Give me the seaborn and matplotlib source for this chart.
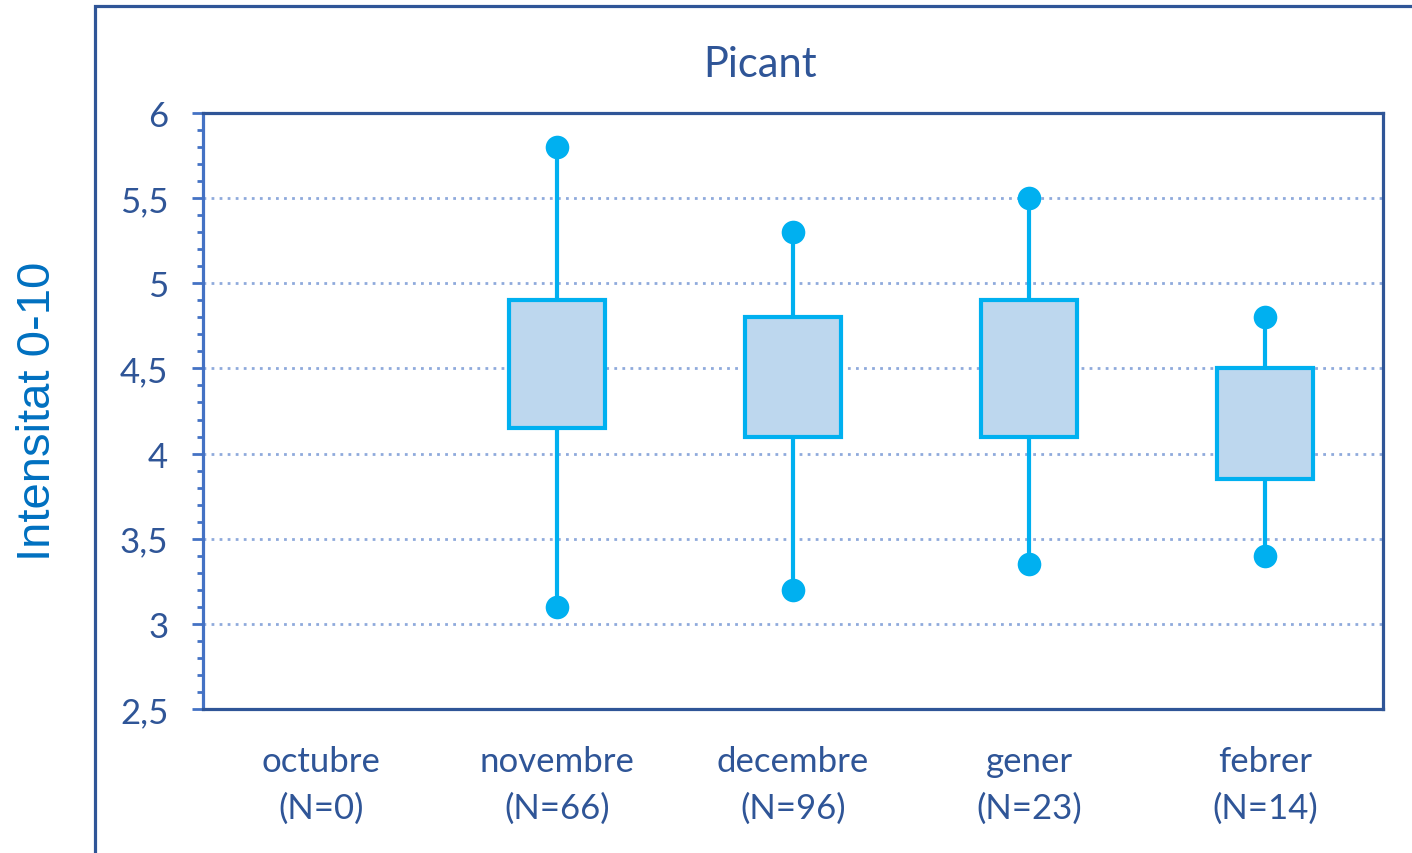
import numpy as np
import pandas as pd
import seaborn as sns
import matplotlib.pyplot as plt
from matplotlib.lines import Line2D
from matplotlib.ticker import MultipleLocator, FuncFormatter

# ---- data ----
months = ["octubre", "novembre", "decembre", "gener", "febrer"]
counts = [0, 66, 96, 23, 14]
whisker_low = [None, 3.1, 3.2, 3.35, 3.4]
box_q1 = [None, 4.15, 4.1, 4.1, 3.85]
box_q3 = [None, 4.9, 4.8, 4.9, 4.5]
whisker_high = [None, 5.8, 5.3, 5.5, 4.8]

title = "Picant"
ylabel = "Intensitat 0-10"

labels = [f"{m}\n(N={n})" for m, n in zip(months, counts)]

# long-form table whose quartiles / extremes reproduce the box stats
rows = []
ends = []
for lab, lo, q1, q3, hi in zip(labels, whisker_low, box_q1, box_q3, whisker_high):
    if lo is None:
        continue
    for v in (lo, q1, q1, q3, q3, hi):
        rows.append({"mes": lab, "valor": v})
    ends.append({"mes": lab, "valor": lo})
    ends.append({"mes": lab, "valor": hi})
df = pd.DataFrame(rows)
df_ends = pd.DataFrame(ends)

# ---- style ----
sns.set_style("white")
plt.rcParams["font.family"] = ["Lato", "DejaVu Sans"]

DARK = "#2F5597"
AXBLUE = "#4472C4"
CYAN = "#00B0F0"
FILL = "#BDD7EE"
GRID = "#8FAADC"

fig = plt.figure(figsize=(14.12, 8.54), dpi=100)
ax = fig.add_axes([203 / 1412, 1 - 710 / 854, (1383 - 203) / 1412, (710 - 114) / 854])

sns.boxplot(
    data=df, x="mes", y="valor", order=labels, ax=ax,
    whis=(0, 100), width=0.41, color=FILL, saturation=1,
    linecolor=CYAN, linewidth=3, showcaps=False, fliersize=0,
    medianprops=dict(visible=False),
    zorder=3,
)
sns.stripplot(
    data=df_ends, x="mes", y="valor", order=labels, ax=ax,
    jitter=False, color=CYAN, size=17, linewidth=0, zorder=4,
)

ax.set_xlim(-0.5, len(labels) - 0.5)
ax.set_ylim(2.5, 6)
ax.yaxis.set_major_locator(MultipleLocator(0.5))
ax.yaxis.set_minor_locator(MultipleLocator(0.1))
ax.yaxis.set_major_formatter(FuncFormatter(lambda v, p: f"{v:g}".replace(".", ",")))

ax.set_xlabel("")
ax.set_ylabel("")

for yv in np.arange(3.0, 5.51, 0.5):
    ax.axhline(yv, color=GRID, lw=2.0, linestyle=(0, (1.0, 1.9)), zorder=1)

for s in ["top", "right", "bottom"]:
    ax.spines[s].set_color(DARK)
    ax.spines[s].set_linewidth(2.3)
ax.spines["left"].set_color(AXBLUE)
ax.spines["left"].set_linewidth(2.3)

ax.tick_params(axis="y", which="major", direction="out", length=8, width=2,
               color=AXBLUE, labelsize=25, labelcolor=DARK, pad=17, left=True)
ax.tick_params(axis="y", which="minor", direction="out", length=4.5, width=2,
               color=AXBLUE, left=True)
ax.tick_params(axis="x", length=0, labelsize=25, labelcolor=DARK, pad=26)
for t in ax.get_xticklabels():
    t.set_linespacing(1.55)

# outer chart frame (continues beyond the image)
x0 = 94.5 / 1412
y0 = 1 - 6.5 / 854
fig.add_artist(Line2D([x0, x0, 1.02], [-0.02, y0, y0], transform=fig.transFigure,
                      color=DARK, lw=2.3, solid_joinstyle="miter"))

fig.text(760 / 1412, 1 - 65 / 854, title, ha="center", va="center",
         fontsize=30, color=DARK)
fig.text(38 / 1412, 1 - 411 / 854, ylabel, ha="center", va="center",
         rotation=90, fontsize=34, color="#0070C0",
         family=["Liberation Sans", "DejaVu Sans"])

fig.savefig("out.png", dpi=100)
